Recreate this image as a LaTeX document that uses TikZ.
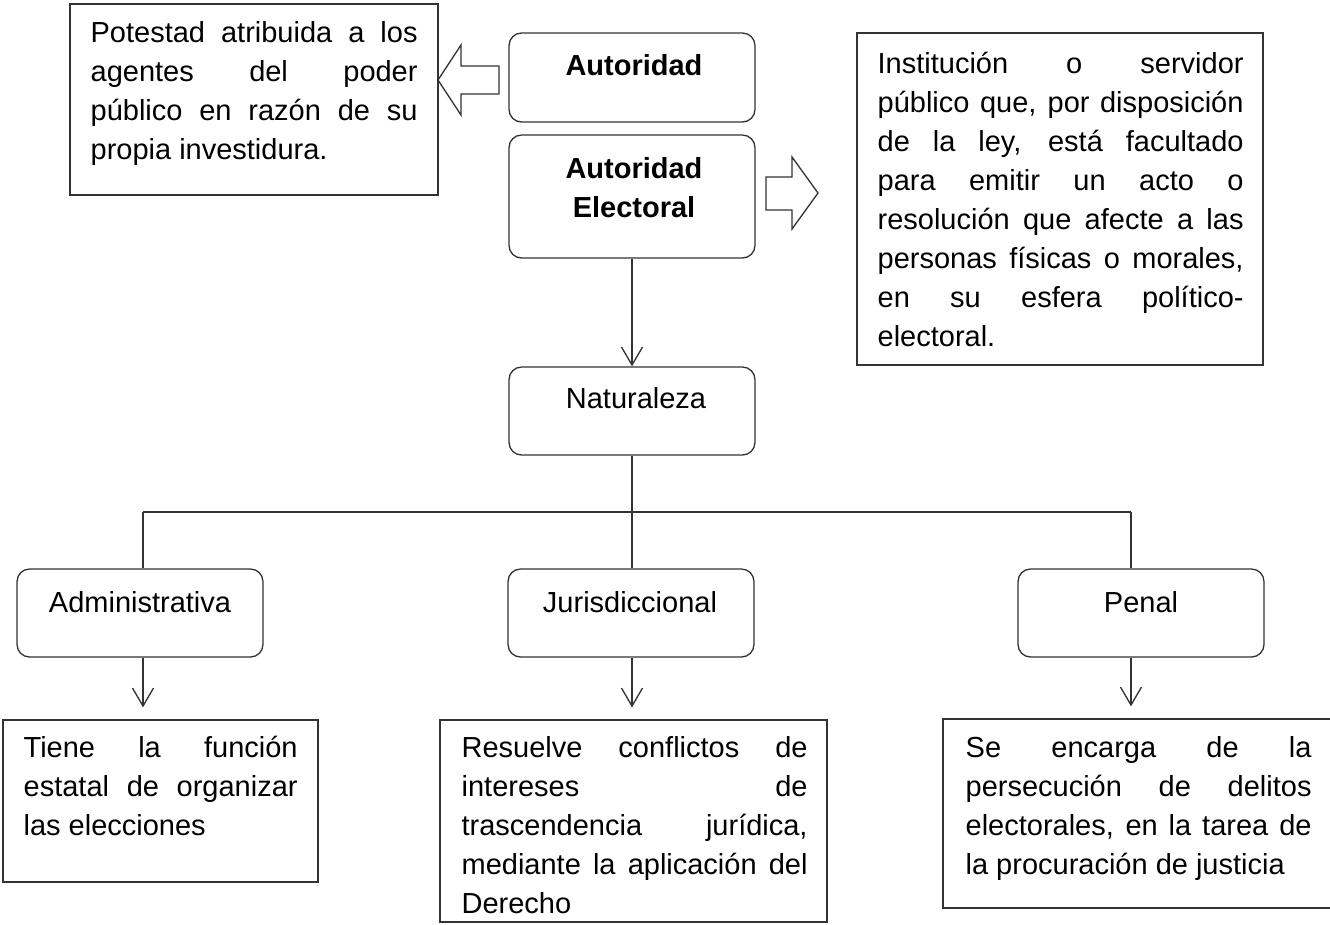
\documentclass[tikz,border=0pt]{standalone}
\usepackage{fontspec}
\setmainfont{Liberation Sans}
\usetikzlibrary{arrows.meta}
\tolerance=10000
\hbadness=10000
\hyphenpenalty=10000

\begin{document}
\begin{tikzpicture}[x=0.02cm, y=-0.02cm, line width=0.75pt, draw=black!80,
  caja/.style={draw, rectangle, inner sep=0pt},
  redonda/.style={caja, rounded corners=0.25cm, minimum width=4.92cm, minimum height=1.76cm},
  texto/.style={anchor=base west, inner sep=0pt, align=justify, font=\fontsize{16.5}{22.2}\selectfont},
  titulo/.style={anchor=base, inner sep=0pt, align=center, text width=4.8cm, font=\fontsize{16.5}{22.2}\selectfont},
  flecha/.style={-{Straight Barb[length=0.36cm,width=0.42cm]}}]
  \useasboundingbox (0,0) rectangle (1330,924);
  \clip (0,0) rectangle (1330,924);

  % cajas de arriba
  \node[caja, minimum width=7.36cm, minimum height=3.82cm] (potestad) at (254,99.5) {};
  \node[redonda, minimum height=1.78cm] (autoridad) at (632,77.5) {};
  \node[redonda, minimum height=2.46cm] (electoral) at (632,196.5) {};
  \node[caja, minimum width=8.12cm, minimum height=6.64cm] (definicion) at (1060,199) {};
  \node[redonda] (naturaleza) at (632,411) {};

  \node[texto, text width=6.54cm] (tpotestad) at (90,42) {Potestad atribuida a los\linebreak agentes del poder\linebreak público en razón de su\linebreak propia investidura.};
  \node[titulo, font=\fontsize{16.5}{22.2}\selectfont\bfseries] (tautoridad) at (634,75) {Autoridad};
  \node[titulo, font=\fontsize{16.5}{22.2}\selectfont\bfseries] (telectoral) at (634,178) {Autoridad\\Electoral};
  \node[texto, text width=7.32cm] (tdefinicion) at (877,73) {Institución o servidor\linebreak público que, por disposición\linebreak de la ley, está facultado\linebreak para emitir un acto o\linebreak resolución que afecte a las\linebreak personas físicas o morales,\linebreak en su esfera político-\linebreak electoral.};
  \node[titulo] (tnaturaleza) at (636,408) {Naturaleza};

  % flechas de bloque
  \draw (499,66) -- (461,66) -- (461,45) -- (438,80) -- (461,115) -- (461,94) -- (499,94) -- cycle;
  \draw (766,177) -- (792,177) -- (792,157) -- (818,193) -- (792,229) -- (792,210) -- (766,210) -- cycle;

  \draw[flecha] (electoral.south) -- (electoral.south |- naturaleza.north);

  % ramas
  \node[redonda] (admin) at (140,613) {};
  \node[redonda] (juris) at (631,613) {};
  \node[redonda] (penal) at (1141,613) {};
  \node[titulo] (tadmin) at (140,612) {Administrativa};
  \node[titulo] (tjuris) at (630,612) {Jurisdiccional};
  \node[titulo] (tpenal) at (1141,612) {Penal};

  \coordinate (c1) at (143,512);
  \coordinate (c2) at (632,512);
  \coordinate (c3) at (1131,512);
  \draw (naturaleza.south) -- (c2);
  \draw (c1) -- (c3);
  \draw (c1) -- (c1 |- admin.north);
  \draw (c2) -- (c2 |- juris.north);
  \draw (c3) -- (c3 |- penal.north);

  % notas de abajo
  \node[caja, minimum width=6.3cm, minimum height=3.24cm] (notaadmin) at (160.5,801) {};
  \node[caja, minimum width=7.74cm, minimum height=4.04cm] (notajuris) at (633.5,821) {};
  \node[caja, minimum width=7.94cm, minimum height=3.78cm] (notapenal) at (1141.5,813.5) {};

  \draw[flecha, shorten >=0.24cm] (c1 |- admin.south) -- (c1 |- notaadmin.north);
  \draw[flecha, shorten >=0.24cm] (c2 |- juris.south) -- (c2 |- notajuris.north);
  \draw[flecha, shorten >=0.24cm] (c3 |- penal.south) -- (c3 |- notapenal.north);

  \node[texto, text width=5.48cm] (tnotaadmin) at (23,757) {Tiene la función\linebreak estatal de organizar\linebreak las elecciones};
  \node[texto, text width=6.92cm] (tnotajuris) at (461,757) {Resuelve conflictos de\linebreak intereses de\linebreak trascendencia jurídica,\linebreak mediante la aplicación del\linebreak Derecho};
  \node[texto, text width=6.92cm] (tnotapenal) at (965,757) {Se encarga de la\linebreak persecución de delitos\linebreak electorales, en la tarea de\linebreak la procuración de justicia};
\end{tikzpicture}
\end{document}
